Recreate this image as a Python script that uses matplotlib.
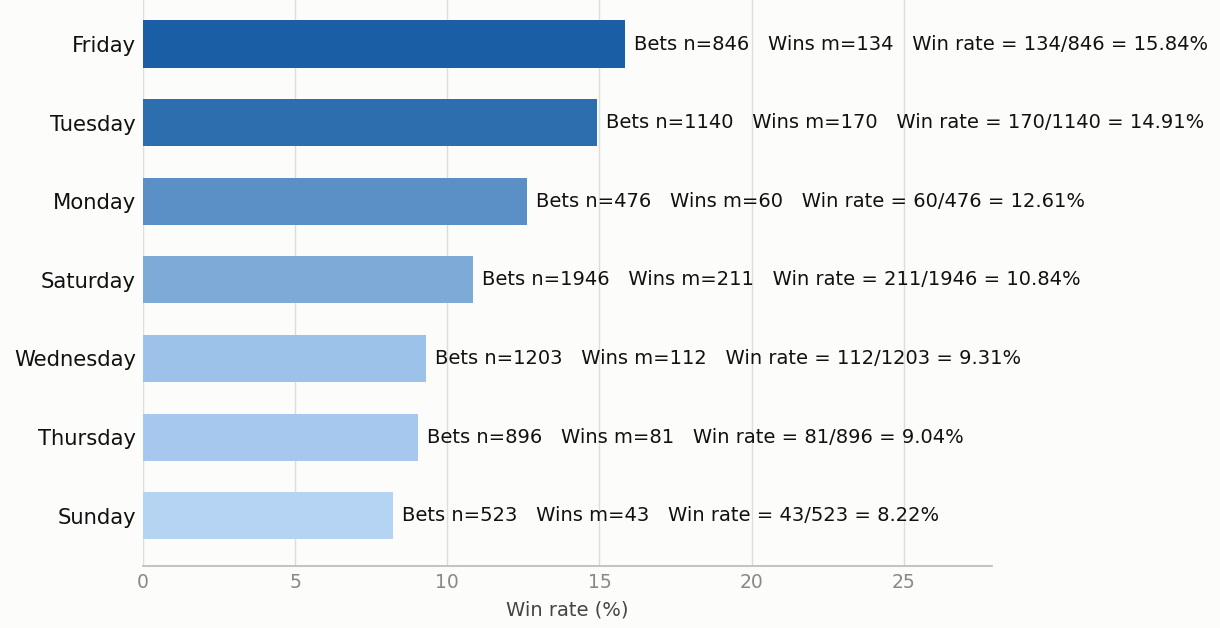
import matplotlib.pyplot as plt

days = ["Sunday", "Thursday", "Wednesday", "Saturday", "Monday", "Tuesday", "Friday"]
bets = [523, 896, 1203, 1946, 476, 1140, 846]
wins = [43, 81, 112, 211, 60, 170, 134]
colors = ["#b5d4f4", "#a6c8ee", "#9dc2ea", "#7eaad8", "#5b90c6", "#2d6fae", "#1a5fa6"]

rates = [100.0 * w / b for w, b in zip(wins, bets)]

fig = plt.figure(figsize=(12.2, 6.28), dpi=100, facecolor="#fcfcfa")
ax = fig.add_axes([0.1172, 0.0987, 0.6959, 0.9013])
ax.set_facecolor("#fcfcfa")

ypos = list(range(len(days)))
ax.barh(ypos, rates, height=0.6, color=colors, zorder=3)

for y, r, b, w in zip(ypos, rates, bets, wins):
    label = f"Bets n={b}   Wins m={w}   Win rate = {w}/{b} = {r:.2f}%"
    ax.annotate(label, (r, y), xytext=(6.5, 0), textcoords="offset points",
                va="center", ha="left", fontsize=14, color="#111111", zorder=4)

ax.set_yticks(ypos)
ax.set_yticklabels(days, fontsize=15.2, color="#111111")
ax.set_xticks([0, 5, 10, 15, 20, 25])
ax.tick_params(axis="x", labelsize=13.5, labelcolor="#888888", length=0, pad=5)
ax.tick_params(axis="y", length=0, pad=5)
ax.set_xlim(0, 27.9)
ax.set_ylim(-0.64, 6.56)
ax.set_xlabel("Win rate (%)", fontsize=14, color="#444444", labelpad=6)

ax.grid(axis="x", color="#dddddd", linewidth=1, zorder=0)
for s in ["top", "right", "left"]:
    ax.spines[s].set_visible(False)
ax.spines["bottom"].set_color("#bbbbb4")
ax.spines["bottom"].set_linewidth(1.2)

fig.savefig("out.png", dpi=100, facecolor=fig.get_facecolor())
